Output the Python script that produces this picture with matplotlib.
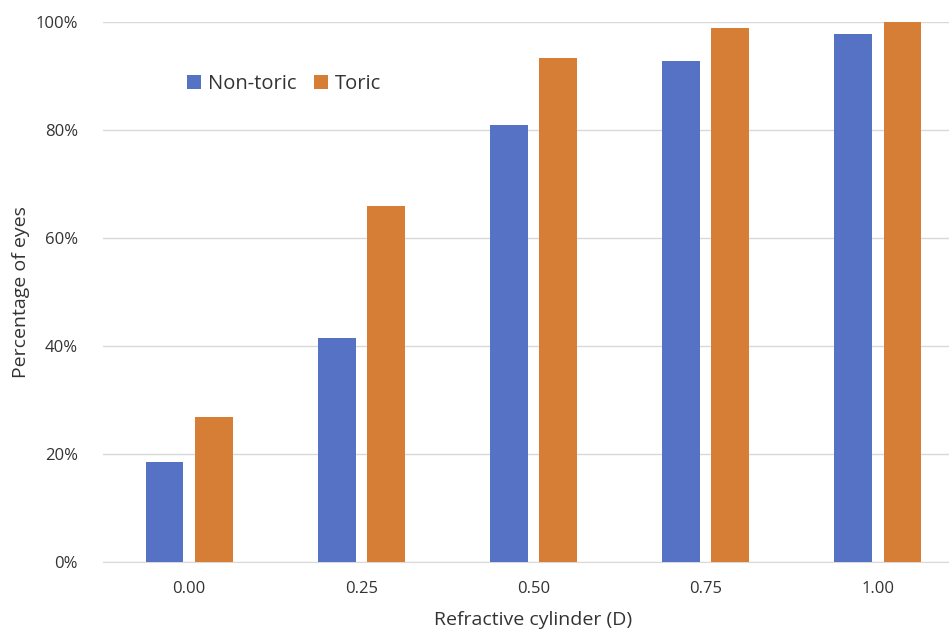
import matplotlib
matplotlib.use("Agg")
import matplotlib.pyplot as plt
import numpy as np
from matplotlib.ticker import FuncFormatter

categories = ["0.00", "0.25", "0.50", "0.75", "1.00"]
non_toric = [18.5, 41.4, 81.0, 92.8, 97.7]
toric = [26.9, 66.0, 93.4, 98.8, 100.0]

plt.rcParams['font.family'] = ['Open Sans', 'DejaVu Sans']

W, H = 949, 631
fig = plt.figure(figsize=(W/100, H/100), dpi=100)
left = 103 / W
bottom = (H - 562) / H
height = 540 / H
width = (964 - 103) / W
ax = fig.add_axes([left, bottom, width, height])

x = np.arange(len(categories))
bw = 0.22
blue = "#5572C4"
orange = "#D67D36"
txt = '#333333'
ax.bar(x - 0.143, non_toric, bw, color=blue, label="Non-toric", zorder=3)
ax.bar(x + 0.143, toric, bw, color=orange, label="Toric", zorder=3)

ax.set_xlim(-0.5, 4.5)
ax.set_ylim(0, 100)
ax.set_yticks(range(0, 101, 20))
ax.yaxis.set_major_formatter(FuncFormatter(lambda v, p: f"{int(v)}%"))
ax.set_xticks(x)
ax.set_xticklabels(categories)
ax.grid(axis='y', color='#D9D9D9', linewidth=1, zorder=0)
for s in ['top', 'right', 'left']:
    ax.spines[s].set_visible(False)
ax.spines['bottom'].set_color('#D9D9D9')
ax.tick_params(axis='both', length=0, labelsize=12, colors=txt)
ax.tick_params(axis='x', pad=14)
ax.tick_params(axis='y', pad=18)
ax.set_xlabel("Refractive cylinder (D)", fontsize=14, color=txt, labelpad=10)
ax.set_ylabel("Percentage of eyes", fontsize=14, color=txt, labelpad=4)

ax.legend(loc='upper left', bbox_to_anchor=((179 - 103) / (964 - 103), (562 - 66) / 540),
          ncol=2, frameon=False, fontsize=14.5, handlelength=0.7, handleheight=0.7,
          handletextpad=0.35, columnspacing=0.85, labelcolor=txt, borderaxespad=0)

fig.savefig("out.png", dpi=100)
